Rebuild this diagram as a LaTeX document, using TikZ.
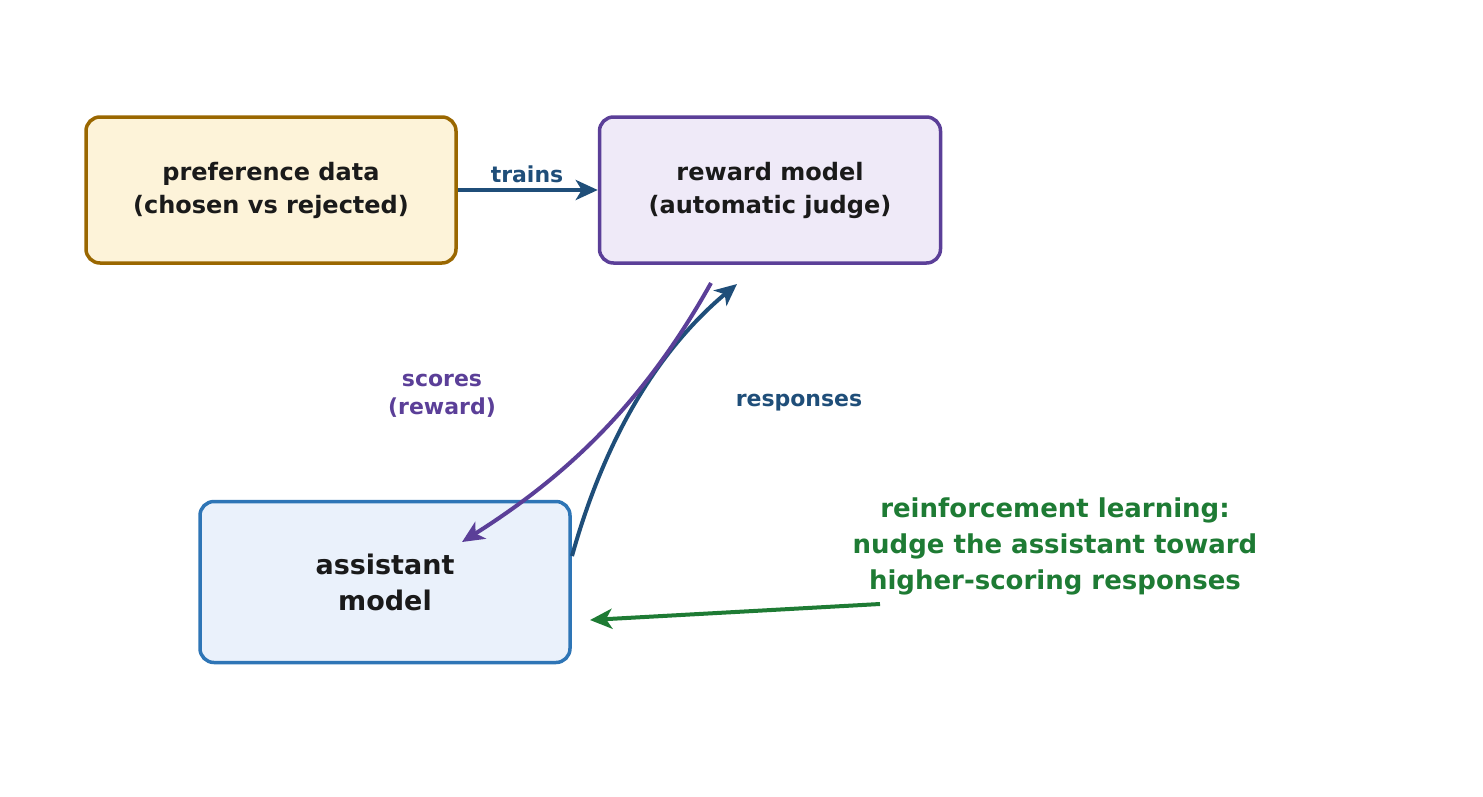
\documentclass[tikz,border=0pt]{standalone}
\usepackage{fontspec}
\setmainfont{DejaVu Sans}
\usetikzlibrary{arrows.meta}
\definecolor{arrowblue}{HTML}{1F4E79}
\definecolor{rewardpurple}{HTML}{5B3F98}
\definecolor{rlgreen}{HTML}{1E7B34}
\definecolor{prefborder}{HTML}{9A6700}
\definecolor{preffill}{HTML}{FDF3D9}
\definecolor{rewardfill}{HTML}{EFEAF8}
\definecolor{asstborder}{HTML}{2E75B6}
\definecolor{asstfill}{HTML}{EAF1FB}
\definecolor{boxtext}{HTML}{1A1A1A}
\tikzset{
  box/.style={draw, line width=3.5pt, rounded corners=14pt, align=center,
    text=boxtext, font=\fontsize{24}{33}\selectfont\bfseries},
  flow/.style={line width=4pt, -{Stealth[length=22pt,width=20pt,inset=6pt]}},
  lbl/.style={align=center, font=\fontsize{22}{28}\selectfont\bfseries}
}
\begin{document}
\begin{tikzpicture}[x=1pt,y=1pt,yscale=-1]
\useasboundingbox (0,0) rectangle (1483,796);
% boxes
\node[box, draw=prefborder, fill=preffill, minimum width=370pt, minimum height=146pt] (prefdata) at (271,190) {preference data\\(chosen vs rejected)};
\node[box, draw=rewardpurple, fill=rewardfill, minimum width=341pt, minimum height=146pt] (rewardmodel) at (770,190) {reward model\\(automatic judge)};
\node[box, draw=asstborder, fill=asstfill, minimum width=370pt, minimum height=161pt, font=\fontsize{27}{36}\selectfont\bfseries] (assistant) at (385,582) {assistant\\model};
% arrow end points
\coordinate (respstart) at (572,556);
\coordinate (respend) at (737,284);
\coordinate (scorestart) at (711,283);
\coordinate (scoreend) at (462,542);
\coordinate (rlstart) at (880,604);
\coordinate (rlend) at (590,620);
% arrows
\draw[flow, arrowblue] (prefdata.east) -- (rewardmodel.west);
\node[lbl, text=arrowblue] (trainslbl) at (527,174) {trains};
\draw[flow, arrowblue] (respstart) .. controls (610,420) and (670,340) .. (respend);
\draw[flow, rewardpurple] (scorestart) .. controls (640,410) and (560,480) .. (scoreend);
\node[lbl, text=arrowblue] (resplbl) at (799,403) {responses};
\node[lbl, text=rewardpurple] (scorelbl) at (442,396) {scores\\(reward)};
\draw[flow, rlgreen] (rlstart) -- (rlend);
\node[lbl, text=rlgreen, font=\fontsize{26}{36}\selectfont\bfseries] (rllbl) at (1055,546) {reinforcement learning:\\nudge the assistant toward\\higher-scoring responses};
\end{tikzpicture}
\end{document}
